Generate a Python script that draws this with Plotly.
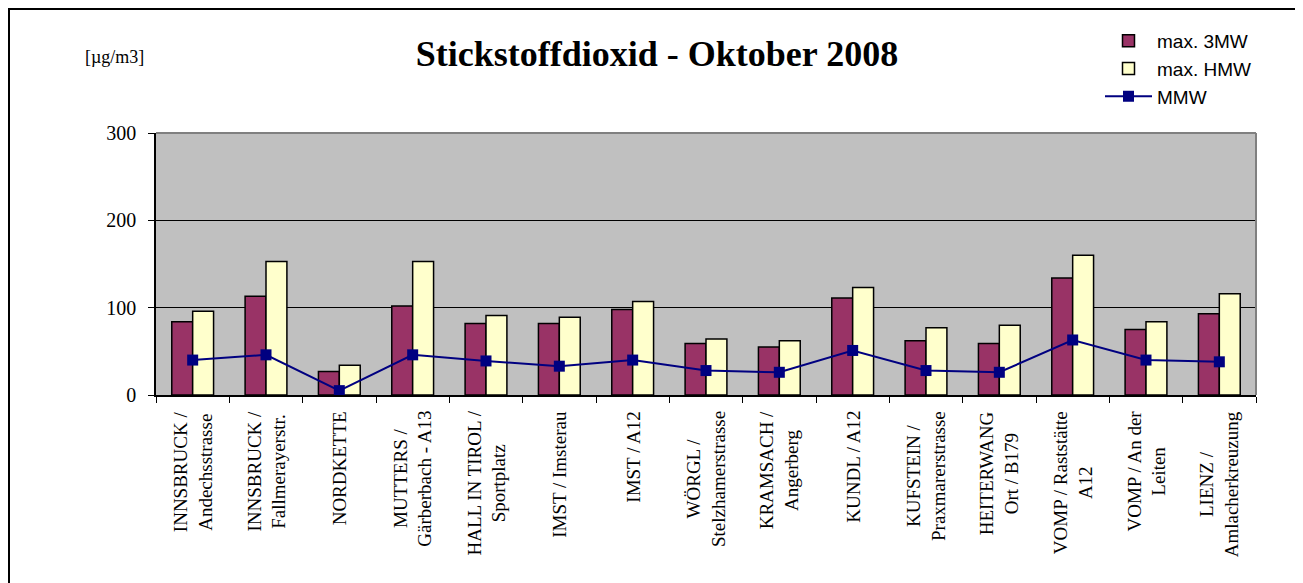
import plotly.graph_objects as go

# Messstellen (Zeilenumbruch wie in der Vorlage)
stations = [
    "INNSBRUCK /<br>Andechsstrasse",
    "INNSBRUCK /<br>Fallmerayerstr.",
    "NORDKETTE",
    "MUTTERS /<br>Gärberbach - A13",
    "HALL IN TIROL /<br>Sportplatz",
    "IMST / Imsterau",
    "IMST / A12",
    "WÖRGL /<br>Stelzhamerstrasse",
    "KRAMSACH /<br>Angerberg",
    "KUNDL / A12",
    "KUFSTEIN /<br>Praxmarerstrasse",
    "HEITERWANG<br>Ort / B179",
    "VOMP / Raststätte<br>A12",
    "VOMP / An der<br>Leiten",
    "LIENZ /<br>Amlacherkreuzung",
]
max_3mw = [84, 113, 27, 102, 82, 82, 98, 59, 55, 111, 62, 59, 134, 75, 93]
max_hmw = [96, 153, 34, 153, 91, 89, 107, 64, 62, 123, 77, 80, 160, 84, 116]
mmw = [40, 46, 5, 46, 39, 33, 40, 28, 26, 51, 28, 26, 63, 40, 38]
y_ticks = [0, 100, 200, 300]

# Seite hat 8px Rand -> Figur etwas kleiner, Positionen in Seitenpixeln
OFF = 8
W, H = 1303 - OFF, 583 - OFF
L, R, T, B = 156 - OFF, 47, 133 - OFF, 583 - 395
pw, ph = W - L - R, H - T - B


def px_x(x):
    return (x - OFF - L) / pw


def px_y(y):
    return 1 - (y - OFF - T) / ph


serif = "Liberation Serif, Times New Roman, serif"
sans = "Liberation Sans, Arial, sans-serif"

fig = go.Figure()
fig.add_trace(go.Bar(x=stations, y=max_3mw, name="max. 3MW",
                     marker=dict(color="#993366", line=dict(color="black", width=1.5))))
fig.add_trace(go.Bar(x=stations, y=max_hmw, name="max. HMW",
                     marker=dict(color="#FFFFCC", line=dict(color="black", width=1.5))))
fig.add_trace(go.Scatter(x=stations, y=mmw, name="MMW", mode="lines+markers",
                         line=dict(color="#000080", width=2),
                         marker=dict(symbol="square", size=11, color="#000080")))

# Achsenbeschriftung gedreht, Zeilen zentriert
for s in stations:
    fig.add_annotation(x=s, y=px_y(409), xref="x", yref="paper", text=s,
                       textangle=-90, showarrow=False, xanchor="center", yanchor="top",
                       align="center", font=dict(family=serif, size=19, color="black"))

fig.add_annotation(x=px_x(114), y=px_y(57), xref="paper", yref="paper", text="[µg/m3]",
                   showarrow=False, xanchor="center", yanchor="middle",
                   font=dict(family=serif, size=18, color="black"))

# Rahmen und graue Kanten der Zeichenfläche
fig.add_shape(type="rect", xref="paper", yref="paper", x0=px_x(OFF + 1), x1=px_x(1301),
              y0=px_y(620), y1=px_y(OFF + 1), line=dict(color="black", width=2))
fig.add_shape(type="line", xref="paper", yref="paper", x0=0, x1=1, y0=1, y1=1,
              line=dict(color="#808080", width=2))
fig.add_shape(type="line", xref="paper", yref="paper", x0=1, x1=1, y0=0, y1=1,
              line=dict(color="#808080", width=2))

fig.update_layout(
    width=W, height=H,
    margin=dict(l=L, r=R, t=T, b=B),
    paper_bgcolor="white", plot_bgcolor="#C0C0C0",
    barmode="group", bargap=0.43, bargroupgap=0,
    title=dict(text="<b>Stickstoffdioxid - Oktober 2008</b>", xref="container", yref="container",
               x=(657 - OFF) / W, y=1 - (53 - OFF) / H, xanchor="center", yanchor="middle",
               font=dict(family=serif, size=36, color="black")),
    legend=dict(x=px_x(1100), y=px_y(22), xanchor="left", yanchor="top",
                font=dict(family=sans, size=19, color="black"), itemwidth=47,
                bgcolor="rgba(0,0,0,0)", tracegroupgap=0),
    showlegend=True,
)
fig.update_xaxes(range=[-0.5, len(stations) - 0.5], showticklabels=False, showline=True,
                 linecolor="black", linewidth=1.5, ticks="outside", ticklen=6,
                 tickcolor="black", tickson="boundaries", showgrid=False)
fig.update_yaxes(range=[0, 300], tickvals=y_ticks, showline=True, linecolor="black",
                 linewidth=1.5, ticks="outside", ticklen=6, tickcolor="black",
                 gridcolor="black", gridwidth=1, zeroline=False, ticklabelstandoff=8,
                 tickfont=dict(family=serif, size=20, color="black"),
                 minor=dict(tickvals=y_ticks, ticks="inside", ticklen=6, tickcolor="black",
                            showgrid=False))

fig.write_html("out.html")
